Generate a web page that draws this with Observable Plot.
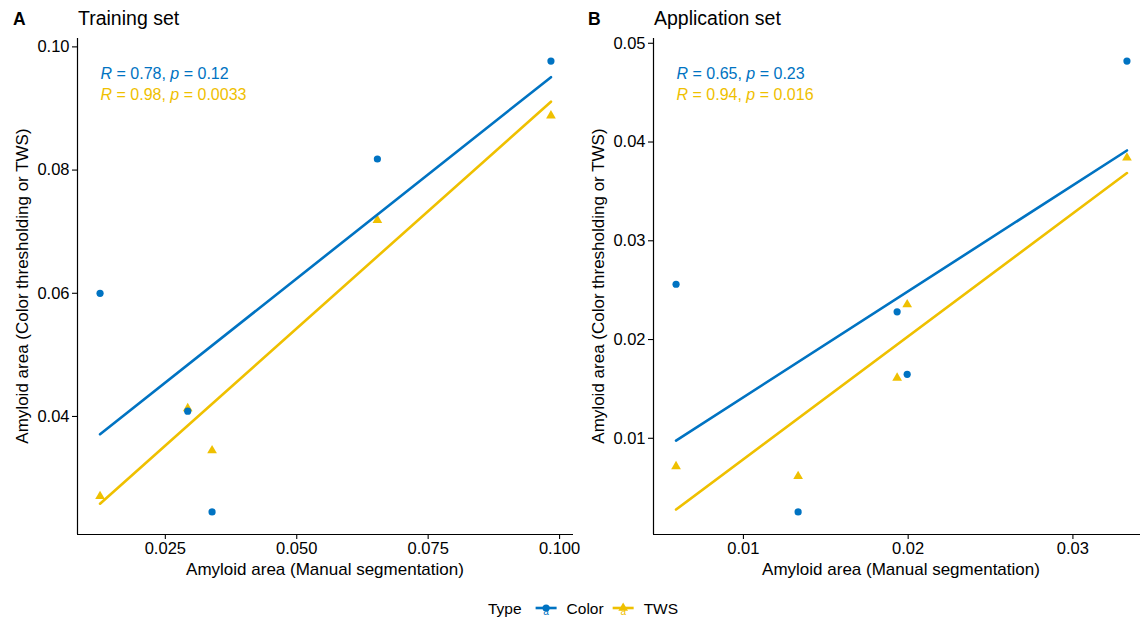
<!DOCTYPE html>
<html>
<head>
<meta charset="utf-8">
<script src="https://cdn.jsdelivr.net/npm/d3@7"></script>
<script src="https://cdn.jsdelivr.net/npm/@observablehq/plot@0.6"></script>
<style>
html, body { margin: 0; padding: 0; background: #fff; overflow: hidden; width: 1140px; height: 622px; }
#root { position: relative; width: 1140px; height: 622px; overflow: hidden; font-family: "Liberation Sans", Arial, Helvetica, sans-serif; }
.panel { position: absolute; top: 0; }
#overlay { position: absolute; left: 0; top: 0; }
</style>
</head>
<body>
<div id="root"></div>
<script>
// ---------------- data ----------------
const types = ["Color", "TWS"];
const typeColors = ["#0073C2", "#EFC000"];
const typeSymbols = ["circle", "triangle"];

// Panel A: Training set
const trainManual = [0.01258, 0.02926, 0.03389, 0.06534, 0.09836];
const trainColor  = [0.06000, 0.04086, 0.02450, 0.08180, 0.09770];
const trainTWS    = [0.02704, 0.04130, 0.03447, 0.07187, 0.08883];
const trainR = ["0.78", "0.98"];
const trainP = ["0.12", "0.0033"];
const trainXTicks  = [0.025, 0.05, 0.075, 0.1];
const trainXLabels = ["0.025", "0.050", "0.075", "0.100"];
const trainYTicks  = [0.04, 0.06, 0.08, 0.10];
const trainYLabels = ["0.04", "0.06", "0.08", "0.10"];

// Panel B: Application set
const appManual = [0.00591, 0.01933, 0.01994, 0.01332, 0.03328];
const appColor  = [0.02560, 0.02281, 0.01648, 0.00254, 0.04820];
const appTWS    = [0.00716, 0.01612, 0.02355, 0.00615, 0.03840];
const appR = ["0.65", "0.94"];
const appP = ["0.23", "0.016"];
const appXTicks  = [0.01, 0.02, 0.03];
const appXLabels = ["0.01", "0.02", "0.03"];
const appYTicks  = [0.01, 0.02, 0.03, 0.04, 0.05];
const appYLabels = ["0.01", "0.02", "0.03", "0.04", "0.05"];

const panelLetters = ["A", "B"];
const panelTitles = ["Training set", "Application set"];
const xTitle = "Amyloid area (Manual segmentation)";
const yTitle = "Amyloid area (Color thresholding or TWS)";
const legendTitle = "Type";

// ---------------- layout ----------------
const FONT = '"Liberation Sans", Arial, Helvetica, sans-serif';
const H = 590, MT = 38, MB = 56;
const root = document.getElementById("root");

function expand(vals) {
  const lo = d3.min(vals), hi = d3.max(vals), pad = (hi - lo) * 0.05;
  return [lo - pad, hi + pad];
}
function labeler(ticks, labels) {
  return d => { const i = ticks.findIndex(t => Math.abs(t - d) < 1e-9); return i < 0 ? "" : labels[i]; };
}

function makePanel(cfg) {
  const rows = [];
  cfg.manual.forEach((m, i) => rows.push({x: m, y: cfg.tws[i], type: "TWS"}));
  cfg.manual.forEach((m, i) => rows.push({x: m, y: cfg.color[i], type: "Color"}));
  const xd = expand(cfg.manual);
  const yd = expand([...cfg.color, ...cfg.tws]);
  const plot = Plot.plot({
    width: cfg.width, height: H,
    marginLeft: cfg.ml, marginRight: cfg.mr, marginTop: MT, marginBottom: MB,
    style: {fontFamily: FONT, fontSize: "16.5px", color: "#000", background: "transparent", overflow: "visible"},
    x: {domain: xd},
    y: {domain: yd},
    color: {domain: types, range: typeColors},
    symbol: {domain: types, range: typeSymbols},
    marks: [
      Plot.axisX({ticks: cfg.xTicks, tickFormat: labeler(cfg.xTicks, cfg.xLabels), tickSize: 5, tickPadding: 3, label: null, fontSize: 16.5, strokeWidth: 1.1}),
      Plot.axisY({ticks: cfg.yTicks, tickFormat: labeler(cfg.yTicks, cfg.yLabels), tickSize: 5, tickPadding: 3, label: null, fontSize: 16.5, strokeWidth: 1.1}),
      Plot.ruleX([xd[0]], {stroke: "#000", strokeWidth: 1.2}),
      Plot.ruleY([yd[0]], {stroke: "#000", strokeWidth: 1.2}),
      Plot.dot(rows.filter(d => d.type === "TWS"), {x: "x", y: "y", symbol: "type", fill: "type", r: 3.6}),
      Plot.dot(rows.filter(d => d.type === "Color"), {x: "x", y: "y", symbol: "type", fill: "type", r: 3.6}),
      Plot.linearRegressionY(rows, {x: "x", y: "y", stroke: "type", ci: 0, strokeWidth: 2.6})
    ]
  });
  plot.classList.add("panel");
  plot.style.left = cfg.left + "px";
  root.appendChild(plot);
  return {plot, xScale: plot.scale("x"), frameLeft: cfg.left + cfg.ml, frameRight: cfg.left + cfg.width - cfg.mr};
}

const pA = makePanel({manual: trainManual, color: trainColor, tws: trainTWS,
  xTicks: trainXTicks, xLabels: trainXLabels, yTicks: trainYTicks, yLabels: trainYLabels,
  left: 0, width: 580, ml: 77, mr: 7});
const pB = makePanel({manual: appManual, color: appColor, tws: appTWS,
  xTicks: appXTicks, xLabels: appXLabels, yTicks: appYTicks, yLabels: appYLabels,
  left: 575, width: 580, ml: 78, mr: 6});

// ---------------- overlay text ----------------
const svg = d3.select(root).append("svg").attr("id", "overlay")
  .attr("width", 1140).attr("height", 622)
  .style("font-family", FONT);

const panels = [
  {p: pA, left: 0, manual: trainManual, R: trainR, P: trainP},
  {p: pB, left: 575, manual: appManual, R: appR, P: appP}
];
panels.forEach((d, k) => {
  const fl = d.p.frameLeft, fr = d.p.frameRight;
  svg.append("text").attr("x", d.left + 13).attr("y", 25).attr("font-size", 17.5).attr("font-weight", "bold").text(panelLetters[k]);
  svg.append("text").attr("x", fl + 1).attr("y", 25).attr("font-size", 19.5).text(panelTitles[k]);
  svg.append("text").attr("x", (fl + fr) / 2).attr("y", 575).attr("text-anchor", "middle").attr("font-size", 17).text(xTitle);
  svg.append("text").attr("transform", `translate(${fl - 49},${(MT + (H - MB)) / 2}) rotate(-90)`)
    .attr("text-anchor", "middle").attr("font-size", 17).text(yTitle);
  const ax = d.left + d.p.xScale.apply(d3.min(d.manual)) + 1;
  types.forEach((t, j) => {
    const tx = svg.append("text").attr("x", ax).attr("y", 78.5 + j * 21.2).attr("font-size", 16).attr("fill", typeColors[j]);
    tx.append("tspan").attr("font-style", "italic").text("R");
    tx.append("tspan").text(" = " + d.R[j] + ", ");
    tx.append("tspan").attr("font-style", "italic").text("p");
    tx.append("tspan").text(" = " + d.P[j]);
  });
});

// ---------------- legend ----------------
const lg = svg.append("g").attr("font-size", 15.5);
let lx = 488;
const ly = 608;
const lt = lg.append("text").attr("x", lx).attr("y", ly + 5.5).text(legendTitle);
lx += lt.node().getComputedTextLength() + 14;
types.forEach((t, j) => {
  const cx = lx + 10.5;
  lg.append("text").attr("x", cx).attr("y", ly + 7).attr("text-anchor", "middle").attr("font-size", 10).attr("fill", typeColors[j]).text("a");
  lg.append("line").attr("x1", lx).attr("x2", lx + 21).attr("y1", ly).attr("y2", ly).attr("stroke", typeColors[j]).attr("stroke-width", 2.6);
  lg.append("path").attr("transform", `translate(${cx},${ly})`)
    .attr("d", d3.symbol(j === 0 ? d3.symbolCircle : d3.symbolTriangle, Math.PI * 3.6 * 3.6)())
    .attr("fill", typeColors[j]);
  lx += 21 + 10;
  const tt = lg.append("text").attr("x", lx).attr("y", ly + 5.5).text(t);
  lx += tt.node().getComputedTextLength() + 9;
});
</script>
</body>
</html>
